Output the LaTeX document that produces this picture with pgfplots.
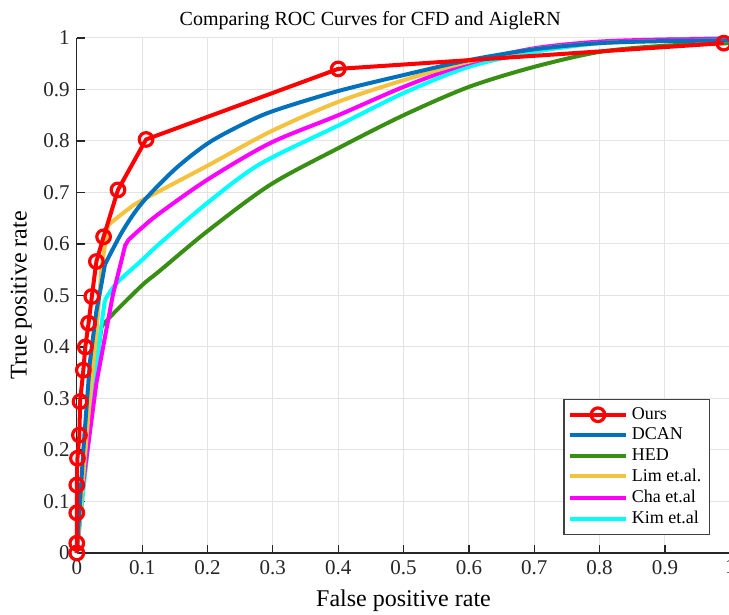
\documentclass[border=0pt]{standalone}
\usepackage{fontspec}
\setmainfont{Liberation Serif}
\usepackage{pgfplots}
\pgfplotsset{compat=1.18}
\usetikzlibrary{calc}

\definecolor{cours}{rgb}{1,0,0}
\definecolor{cdcan}{rgb}{0,0.447,0.741}
\definecolor{ched}{rgb}{0.22,0.56,0.08}
\definecolor{clim}{rgb}{0.96,0.76,0.25}
\definecolor{ccha}{rgb}{1,0,1}
\definecolor{ckim}{rgb}{0,1,1}
\definecolor{axgray}{rgb}{0.15,0.15,0.15}

\begin{document}
\begin{tikzpicture}
\begin{axis}[
  name=ax,
  scale only axis,
  width=326.75pt, height=257.5pt,
  xmin=0, xmax=1, ymin=0, ymax=1,
  xtick={0,0.1,...,1}, ytick={0,0.1,...,1},
  axis lines*=left,
  axis line style={axgray, line width=0.6pt},
  tick align=inside,
  major tick length=4pt,
  tick style={axgray, line width=0.6pt},
  grid=major,
  major grid style={gray!22, line width=0.5pt},
  ticklabel style={font=\fontsize{10.5}{11}\selectfont, text=axgray},
  /pgf/number format/assume math mode=true,
  /pgf/number format/fixed,
  title={Comparing ROC Curves for CFD and AigleRN},
  title style={font=\fontsize{10}{11}\selectfont, at={(0.449,1)}, anchor=south, yshift=-5.5pt},
  xlabel={False positive rate},
  ylabel={True positive rate},
  label style={font=\fontsize{12}{14}\selectfont, text=black},
  xlabel style={yshift=-1pt},
  ylabel style={yshift=-1pt},
  clip=false,
  every axis plot/.append style={line width=2pt, line join=round},
  legend style={at={(0.969,0.035)}, anchor=south east, draw=black!75, line width=0.6pt,
    font=\fontsize{9}{10}\selectfont, row sep=-1.2pt, inner sep=2pt,
    cells={anchor=west}},
  legend image code/.code={\draw[mark repeat=2,mark phase=2,#1] plot coordinates {(0pt,0pt) (14pt,0pt) (28pt,0pt)};},
]
% HED
\addplot[ched, no marks, forget plot] coordinates {
(0,0)(0.01,0.14)(0.02,0.27)(0.03,0.37)(0.038,0.44)};
\addplot[ched, no marks, smooth, tension=0.5, forget plot] coordinates {
(0.038,0.44)(0.056,0.465)(0.1,0.52)(0.127,0.548)(0.2,0.625)(0.296,0.715)(0.4,0.786)
(0.5,0.85)(0.6,0.905)(0.7,0.944)(0.8,0.973)(0.9,0.985)(1,0.99)};
% Kim
\addplot[ckim, no marks, forget plot] coordinates {
(0,0)(0.01,0.122)(0.036,0.427)(0.043,0.491)};
\addplot[ckim, no marks, smooth, tension=0.5, forget plot] coordinates {
(0.043,0.491)(0.061,0.524)(0.1,0.569)(0.127,0.601)(0.2,0.68)(0.28,0.755)(0.4,0.83)
(0.5,0.893)(0.6,0.944)(0.7,0.973)(0.8,0.99)(0.9,0.997)(1,1)};
% Cha
\addplot[ccha, no marks, forget plot] coordinates {
(0,0)(0.007,0.11)(0.03,0.33)(0.055,0.5)(0.066,0.556)(0.074,0.597)(0.079,0.608)};
\addplot[ccha, no marks, smooth, tension=0.5, forget plot] coordinates {
(0.079,0.608)(0.1,0.632)(0.127,0.66)(0.2,0.725)(0.296,0.796)(0.4,0.85)
(0.5,0.905)(0.6,0.951)(0.7,0.98)(0.8,0.993)(0.9,0.997)(1,0.998)};
% Lim
\addplot[clim, no marks, forget plot] coordinates {
(0,0)(0.01,0.15)(0.02,0.3)(0.03,0.427)(0.038,0.556)(0.048,0.637)};
\addplot[clim, no marks, smooth, tension=0.5, forget plot] coordinates {
(0.048,0.637)(0.08,0.669)(0.1,0.685)(0.2,0.752)(0.296,0.818)(0.4,0.876)
(0.5,0.918)(0.6,0.954)(0.7,0.978)(0.8,0.99)(0.9,0.994)(1,0.995)};
% DCAN
\addplot[cdcan, no marks, forget plot] coordinates {
(0,0)(0.01,0.2)(0.02,0.37)(0.03,0.47)(0.038,0.524)(0.043,0.56)};
\addplot[cdcan, no marks, smooth, tension=0.5, forget plot] coordinates {
(0.043,0.56)(0.07,0.625)(0.1,0.68)(0.15,0.745)(0.2,0.795)(0.25,0.83)
(0.3,0.858)(0.4,0.897)(0.5,0.928)(0.6,0.957)(0.7,0.978)(0.8,0.99)(0.9,0.994)(1,0.995)};
% Ours
\addplot[cours, mark=o, mark size=3.4pt, mark options={line width=1.6pt}, forget plot] coordinates {
(0,0)(0,0.019)(0,0.078)(0,0.132)(0.001,0.184)(0.004,0.229)(0.005,0.294)(0.01,0.355)
(0.013,0.40)(0.018,0.446)(0.023,0.498)(0.03,0.566)(0.041,0.614)(0.063,0.705)(0.106,0.803)(0.40,0.94)(0.99,0.99)};
% legend entries in the original order
\addlegendimage{cours, line width=2pt, mark=o, mark size=3.4pt, mark options={line width=1.6pt}}
\addlegendentry{Ours}
\addlegendimage{cdcan, line width=2pt}
\addlegendentry{DCAN}
\addlegendimage{ched, line width=2pt}
\addlegendentry{HED}
\addlegendimage{clim, line width=2pt}
\addlegendentry{Lim et.al.}
\addlegendimage{ccha, line width=2pt}
\addlegendentry{Cha et.al}
\addlegendimage{ckim, line width=2pt}
\addlegendentry{Kim et.al}
\end{axis}
\pgfresetboundingbox
\path ($(ax.south west)+(-38.4pt,-31pt)$) rectangle ($(ax.north east)+(-0.65pt,19pt)$);
\end{tikzpicture}
\end{document}
